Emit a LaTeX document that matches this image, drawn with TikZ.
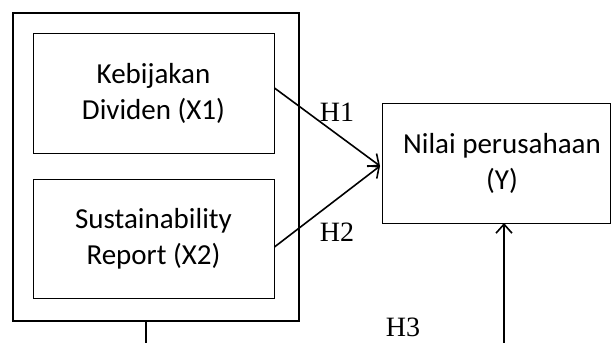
\documentclass[tikz,border=0pt]{standalone}
\usepackage{fontspec}
\setmainfont{Liberation Serif}
\newfontfamily\boxfont{Carlito}
\usetikzlibrary{arrows.meta}
\begin{document}
\begin{tikzpicture}[x=1pt,y=-1pt,
  boxst/.style={draw, line width=0.9pt, inner sep=0pt},
  txt/.style={font=\boxfont\fontsize{29}{36}\selectfont, align=center},
  hlab/.style={font=\fontsize{28}{30}\selectfont, inner sep=0pt},
  arr/.style={line width=1.6pt, -{Straight Barb[length=9pt,width=16pt,line width=1.6pt]}}]
\useasboundingbox (0,0) rectangle (611,343);
\node[boxst, line width=1.6pt, minimum width=286pt, minimum height=308pt] (outer) at (156,167) {};
\node[boxst, minimum width=241pt, minimum height=120pt, txt] (x1) at (153.5,93) {Kebijakan\\Dividen (X1)};
\node[boxst, minimum width=241pt, minimum height=119pt, txt] (x2) at (153.5,238.5) {Sustainability\\Report (X2)};
\node[boxst, minimum width=228pt, minimum height=120pt, txt, anchor=north west] (y) at (382,103) {};
\node[txt] (ytext) at (502,163) {Nilai perusahaan\\(Y)};
\coordinate (tipy) at (380,166);
\coordinate (p1) at (x1.east |- 0,88);
\coordinate (p2) at (x2.east |- 0,247);
\draw[arr] (p1) -- (tipy);
\draw[arr] (p2) -- (tipy);
\coordinate (bot) at (504,343);
\draw[arr] (bot) -- (504,223);
\coordinate (stub) at (146,343);
\draw[line width=1.6pt] (outer.south -| stub) -- (stub);
\node[hlab] (h1) at (337,112) {H1};
\node[hlab] (h2) at (337,232) {H2};
\node[hlab] (h3) at (403,327) {H3};
\end{tikzpicture}
\end{document}
